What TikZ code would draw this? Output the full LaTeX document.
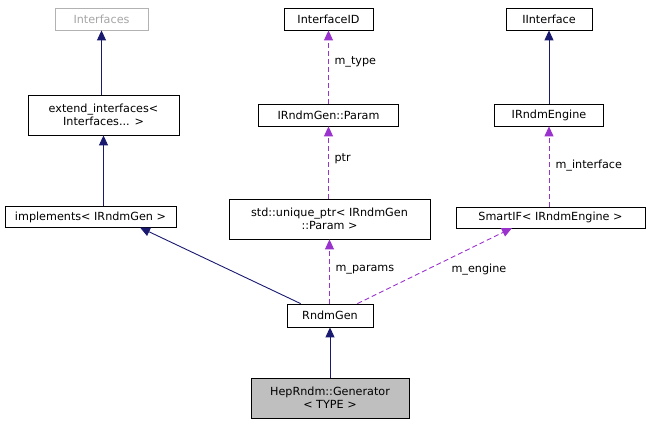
\documentclass[tikz,border=0pt]{standalone}
\usepackage{fontspec}
\setmainfont{DejaVu Sans}
\usetikzlibrary{arrows.meta}
\definecolor{navy}{HTML}{191970}
\definecolor{purp}{HTML}{9A32CD}
\begin{document}
\begin{tikzpicture}[x=1pt,y=-1pt,font=\fontsize{11.2}{13}\selectfont,
    box/.style={draw=black,fill=white,inner sep=0pt,align=center,line width=0.8pt},
    inh/.style={draw=navy,line width=0.9pt,-{Triangle[length=10pt,width=9pt,fill=navy]}},
    use/.style={draw=purp,line width=0.9pt,dash pattern=on 5pt off 3pt,-{Triangle[length=10pt,width=9pt,fill=purp]}},
    lbl/.style={text=black,anchor=west}]

    \useasboundingbox (0,0) rectangle (649,425);

    % boxes
    \node[box,draw=gray!60,text=gray!70,minimum width=93pt,minimum height=22pt] (ifs) at (101.5,19) {Interfaces};
    \node[box,minimum width=151pt,minimum height=40pt] (ext) at (103.5,115) {extend\_interfaces<\\Interfaces... >};
    \node[box,minimum width=171pt,minimum height=21pt] (impl) at (90.5,217) {implements< IRndmGen >};
    \node[box,minimum width=89pt,minimum height=22pt] (iid) at (328.5,19) {InterfaceID};
    \node[box,minimum width=140pt,minimum height=22pt] (par) at (328.5,115) {IRndmGen::Param};
    \node[box,minimum width=201pt,minimum height=40pt] (uptr) at (329.5,219) {std::unique\_ptr< IRndmGen\\::Param >};
    \node[box,minimum width=86pt,minimum height=22pt] (iif) at (549,19) {IInterface};
    \node[box,minimum width=109pt,minimum height=22pt] (eng) at (549,115) {IRndmEngine};
    \node[box,minimum width=189pt,minimum height=21pt] (sif) at (550.5,217.5) {SmartIF< IRndmEngine >};
    \node[box,minimum width=86pt,minimum height=23pt] (rg) at (330,315.5) {RndmGen};
    \node[box,fill=gray!50,minimum width=158pt,minimum height=40pt] (gen) at (330,398) {HepRndm::Generator\\< TYPE >};

    % inheritance
    \draw[inh] (ext.north -| ifs) -- (ifs);
    \draw[inh] (impl.north -| ext) -- (ext);
    \draw[inh] (eng.north -| iif) -- (iif);
    \draw[inh] (gen) -- (rg);
    \draw[inh] (rg.north west) ++(14,0) coordinate (rga) -- (140,227.5);

    % usage
    \draw[use] (par.north -| iid) -- (iid);
    \draw[use] (uptr.north -| par) -- (par);
    \draw[use] (sif.north -| eng) -- (eng);
    \draw[use] (rg.north -| uptr) -- (uptr);
    \draw[use] (rg.north east) ++(-16,0) coordinate (rgb) -- (512,228);

    % labels
    \node[lbl] (ltype) at (331,62) {m\_type};
    \node[lbl] (lptr) at (331,159) {ptr};
    \node[lbl] (lint) at (552,166) {m\_interface};
    \node[lbl] (lpar) at (332,270) {m\_params};
    \node[lbl] (leng) at (448,270) {m\_engine};
\end{tikzpicture}
\end{document}
